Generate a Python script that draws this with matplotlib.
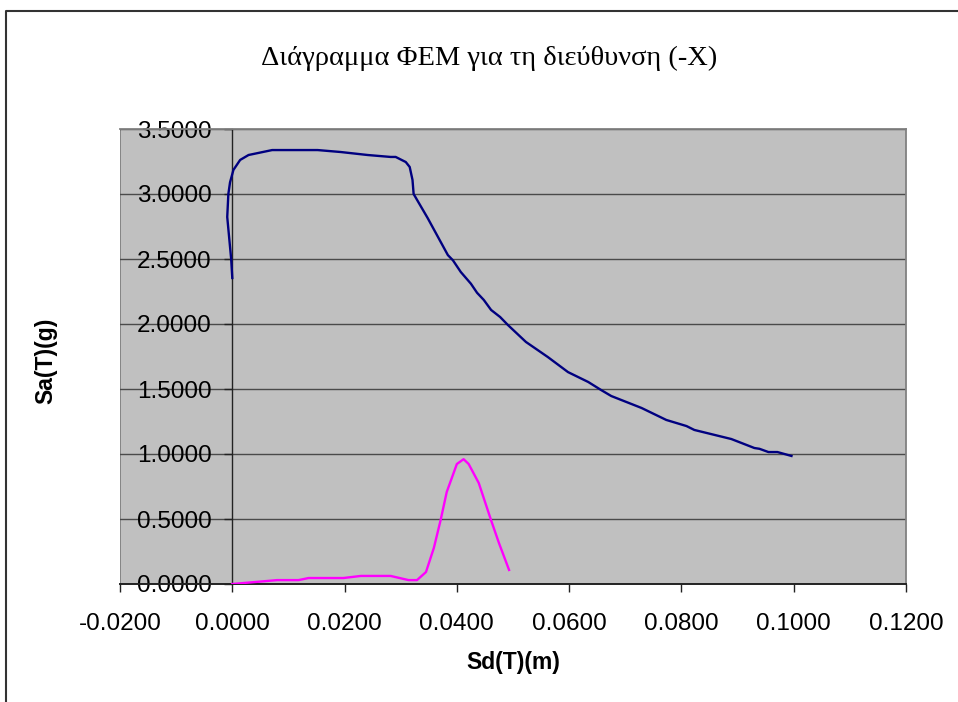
import matplotlib
matplotlib.use("Agg")
import matplotlib.pyplot as plt
from matplotlib.lines import Line2D
from matplotlib.ticker import FormatStrFormatter, MultipleLocator

# capacity curve (Sd, Sa)
capacity_sd = [0.0000, -0.0002, -0.0009, -0.0007, -0.0004, 0.0002, 0.0014, 0.0029, 0.0071,
               0.0152, 0.0193, 0.0241, 0.0282, 0.0291, 0.0309, 0.0316, 0.0321, 0.0323,
               0.0348, 0.0384, 0.0393, 0.0407, 0.0425, 0.0436, 0.0448, 0.0461, 0.0477,
               0.0491, 0.0523, 0.0562, 0.0598, 0.0634, 0.0657, 0.0675, 0.0729, 0.0773,
               0.0809, 0.0823, 0.0889, 0.0930, 0.0939, 0.0955, 0.0971, 0.0996]
capacity_sa = [2.354, 2.500, 2.823, 3.000, 3.090, 3.185, 3.262, 3.300, 3.338,
               3.338, 3.323, 3.300, 3.285, 3.285, 3.246, 3.208, 3.108, 3.000,
               2.815, 2.530, 2.490, 2.400, 2.310, 2.240, 2.185, 2.108, 2.054,
               1.992, 1.862, 1.746, 1.630, 1.554, 1.492, 1.446, 1.354, 1.262,
               1.215, 1.185, 1.115, 1.046, 1.040, 1.015, 1.015, 0.985]

# demand curve (Sd, Sa)
demand_sd = [0.0000, 0.0080, 0.0118, 0.0136, 0.0198, 0.0229, 0.0282, 0.0314, 0.0329,
             0.0345, 0.0359, 0.0371, 0.0382, 0.0400, 0.0412, 0.0421, 0.0439, 0.0461,
             0.0475, 0.0493]
demand_sa = [0.000, 0.030, 0.030, 0.046, 0.046, 0.062, 0.062, 0.030, 0.030,
             0.092, 0.277, 0.490, 0.708, 0.923, 0.960, 0.923, 0.777, 0.490,
             0.315, 0.108]

title = "Διάγραμμα ΦΕΜ για τη διεύθυνση (-X)"
x_label = "Sd(T)(m)"
y_label = "Sa(T)(g)"

W, H = 958, 702
fig = plt.figure(figsize=(W / 100, H / 100), dpi=100)
fig.patch.set_facecolor("white")

# chart frame (runs off the right and bottom edges)
fig.add_artist(Line2D([6 / W, 6 / W, 1.01], [-0.01, 1 - 11 / H, 1 - 11 / H],
                      transform=fig.transFigure, color="#333333", lw=1.5))

ax = fig.add_axes([120 / W, 1 - 584 / H, (906 - 120) / W, (584 - 129) / H])
ax.set_facecolor("#C0C0C0")
ax.set_xlim(-0.02, 0.12)
ax.set_ylim(0, 3.5)

ax.xaxis.set_major_locator(MultipleLocator(0.02))
ax.yaxis.set_major_locator(MultipleLocator(0.5))
ax.xaxis.set_major_formatter(FormatStrFormatter("%.4f"))
ax.yaxis.set_major_formatter(FormatStrFormatter("%.4f"))

ax.grid(axis="y", color="#4a4a4a", lw=1.0)
ax.set_axisbelow(True)

# value axis crosses at x = 0
ax.spines["left"].set_position(("data", 0))
ax.spines["left"].set_color("#222222")
ax.spines["left"].set_linewidth(1.0)
ax.spines["bottom"].set_color("#222222")
ax.spines["bottom"].set_linewidth(1.4)
for side in ("top", "right"):
    ax.spines[side].set_color("#808080")
    ax.spines[side].set_linewidth(1.3)
ax.axvline(-0.02, color="#808080", lw=1.3, zorder=0.5)

ax.tick_params(axis="both", direction="out", length=6, width=1.0, color="#222222",
               labelsize=17.5)
ax.tick_params(axis="x", pad=15)
ax.tick_params(axis="y", pad=9)
for lbl in ax.get_xticklabels() + ax.get_yticklabels():
    lbl.set_fontfamily("Liberation Sans")

ax.plot(capacity_sd, capacity_sa, color="#000080", lw=1.7, zorder=3)
ax.plot(demand_sd, demand_sa, color="#FF00FF", lw=1.7, zorder=3)

fig.text(489 / W, 1 - 58 / H, title, ha="center", va="center",
         fontsize=20.5, family="Liberation Serif")
fig.text(513 / W, 1 - 663 / H, x_label, ha="center", va="center",
         fontsize=16.5, fontweight="bold", family="Liberation Sans")
fig.text(46 / W, 1 - 361 / H, y_label, ha="center", va="center", rotation=90,
         fontsize=16.5, fontweight="bold", family="Liberation Sans")

fig.savefig("out.png", dpi=100)
